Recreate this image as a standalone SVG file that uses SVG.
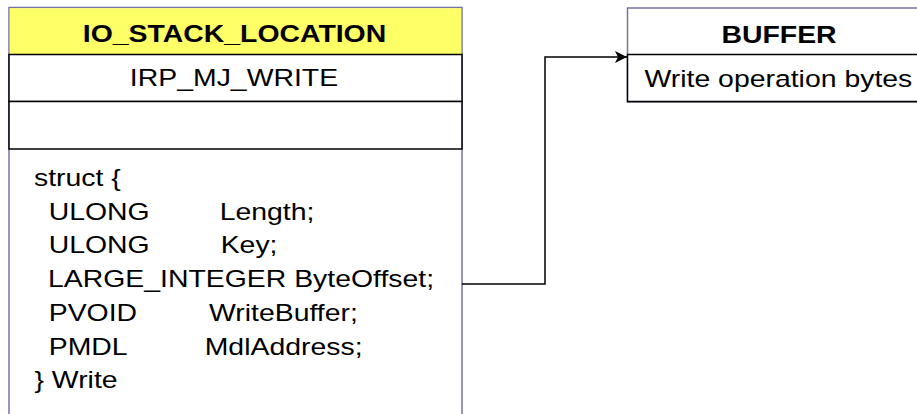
<svg xmlns="http://www.w3.org/2000/svg" width="917" height="414" viewBox="0 0 917 414">
  <defs>
    <style>
      .frame { fill: #ffffff; stroke: #7474a6; stroke-width: 1.5; }
      .head-y { fill: #ffff66; stroke: none; }
      .row { fill: #ffffff; stroke: #000000; stroke-width: 1.5; }
      .t { font-family: "Liberation Sans", Arial, sans-serif; font-size: 24.7px; fill: #000000; }
      .b { font-weight: bold; }
      .wire { fill: none; stroke: #000000; stroke-width: 1.5; }
    </style>
    <marker id="arrow" markerUnits="userSpaceOnUse" markerWidth="14" markerHeight="12" refX="12" refY="6" orient="auto">
      <path d="M0,0 L12,6 L0,12 L3,6 Z" fill="#000000"/>
    </marker>
  </defs>

  <!-- IO_STACK_LOCATION record -->
  <g id="io-stack-location">
    <rect class="frame" x="9" y="7.5" width="453" height="430"/>
    <rect class="head-y" x="9.75" y="8.25" width="451.5" height="46"/>
    <text class="t b" text-anchor="middle" transform="translate(234.5,41.5) scale(1.15,1)">IO_STACK_LOCATION</text>
    <rect class="row" x="9" y="54.5" width="453" height="47"/>
    <text class="t" text-anchor="middle" transform="translate(234,85.5) scale(1.15,1)">IRP_MJ_WRITE</text>
    <rect class="row" x="9" y="101.5" width="453" height="47.5"/>
    <g class="t">
      <text transform="translate(0,186) scale(1.15,1)"><tspan x="29.6">struct {</tspan></text>
      <text transform="translate(0,219.7) scale(1.15,1)"><tspan x="42.35">ULONG</tspan><tspan x="191">Length;</tspan></text>
      <text transform="translate(0,253.4) scale(1.15,1)"><tspan x="42.35">ULONG</tspan><tspan x="191.9">Key;</tspan></text>
      <text transform="translate(0,287) scale(1.15,1)"><tspan x="41.75">LARGE_INTEGER ByteOffset;</tspan></text>
      <text transform="translate(0,320.8) scale(1.15,1)"><tspan x="42.35">PVOID</tspan><tspan x="181.7">WriteBuffer;</tspan></text>
      <text transform="translate(0,354.5) scale(1.15,1)"><tspan x="42.35">PMDL</tspan><tspan x="178">MdlAddress;</tspan></text>
      <text transform="translate(0,388.2) scale(1.15,1)"><tspan x="30">} Write</tspan></text>
    </g>
  </g>

  <!-- BUFFER record -->
  <g id="buffer">
    <rect class="frame" x="627.5" y="8" width="304" height="94"/>
    <text class="t b" text-anchor="middle" transform="translate(779,42.5) scale(1.15,1)">BUFFER</text>
    <rect class="row" x="627.5" y="54.5" width="304" height="47"/>
    <text class="t" transform="translate(0,86.5) scale(1.15,1)"><tspan x="560.4">Write operation bytes</tspan></text>
  </g>

  <!-- connectors -->
  <g id="connectors">
    <path class="wire" d="M462,284 H545 V57 H627" marker-end="url(#arrow)"/>
  </g>
</svg>
